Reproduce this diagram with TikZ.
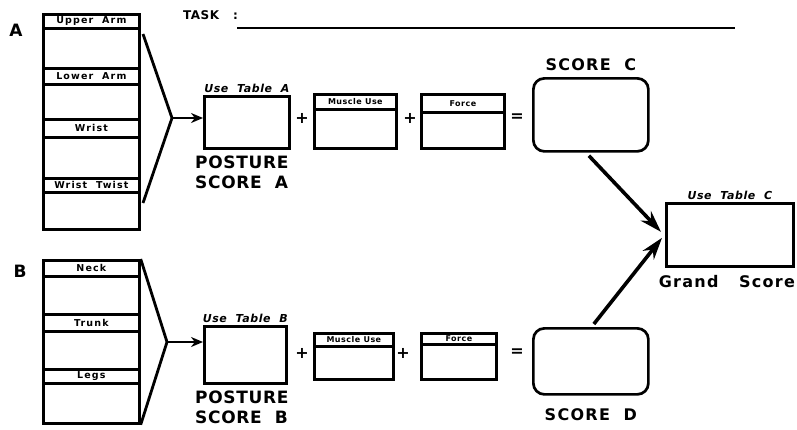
\documentclass[tikz,border=0pt]{standalone}
\usepackage{fontspec}
\setmainfont{DejaVu Sans}
\usetikzlibrary{arrows.meta}

\tikzset{
  box/.style={draw, line width=2.7pt, inner sep=0pt, anchor=north west},
  colhead/.style={font=\bfseries\fontsize{9.5}{9.5}\selectfont\addfontfeature{LetterSpace=12}, inner sep=0pt},
  headlbl/.style={font=\bfseries\fontsize{8}{8}\selectfont\addfontfeature{LetterSpace=6}, inner sep=0pt},
  tablelbl/.style={font=\bfseries\itshape\fontsize{11}{11}\selectfont\addfontfeature{LetterSpace=5}, inner sep=2pt},
  bigtxt/.style={font=\bfseries\fontsize{17}{20}\selectfont\addfontfeature{LetterSpace=4}, inner sep=0pt},
  scoretxt/.style={font=\bfseries\fontsize{16}{17}\selectfont\addfontfeature{LetterSpace=8}, inner sep=0pt},
  opsign/.style={font=\bfseries\fontsize{16}{16}\selectfont, inner sep=0pt},
  fan/.style={line width=2.8pt},
  scorearrow/.style={line width=3.6pt, -{Stealth[length=22pt,width=14pt]}}
}

\begin{document}
\begin{tikzpicture}[x=1pt, y=-1pt]
  \useasboundingbox (0,0) rectangle (797,429);

  % task line
  \node[font=\bfseries\fontsize{12}{12}\selectfont\addfontfeature{LetterSpace=4}, anchor=west, inner sep=0pt] (task) at (183,15) {TASK\hspace{14pt}:};
  \coordinate (taskstart) at (237,28);
  \coordinate (taskend) at (735,28);
  \draw[line width=1.8pt] (taskstart) -- (taskend);

  % group A body parts
  \node[bigtxt] (labA) at (16,30) {A};
  \node[box, minimum width=96, minimum height=14] (uaH) at (42,13) {};
  \node[box, minimum width=96, minimum height=40] (uaC) at (42,27) {};
  \node[box, minimum width=96, minimum height=16] (laH) at (42,67) {};
  \node[box, minimum width=96, minimum height=35] (laC) at (42,83) {};
  \node[box, minimum width=96, minimum height=18] (wrH) at (42,118) {};
  \node[box, minimum width=96, minimum height=41] (wrC) at (42,136) {};
  \node[box, minimum width=96, minimum height=14] (wtH) at (42,177) {};
  \node[box, minimum width=96, minimum height=37] (wtC) at (42,191) {};
  \node[colhead] at (uaH) {Upper\ \ Arm};
  \node[colhead] at (laH) {Lower\ \ Arm};
  \node[colhead] at (wrH) {Wrist};
  \node[colhead] at (wtH) {Wrist\ \ Twist};

  % group B body parts
  \node[bigtxt] (labB) at (20,271) {B};
  \node[box, minimum width=96, minimum height=16] (nkH) at (42,259) {};
  \node[box, minimum width=96, minimum height=38] (nkC) at (42,275) {};
  \node[box, minimum width=96, minimum height=17] (trH) at (42,313) {};
  \node[box, minimum width=96, minimum height=38] (trC) at (42,330) {};
  \node[box, minimum width=96, minimum height=14] (lgH) at (42,368) {};
  \node[box, minimum width=96, minimum height=40] (lgC) at (42,382) {};
  \node[colhead] at (nkH) {Neck};
  \node[colhead] at (trH) {Trunk};
  \node[colhead] at (lgH) {Legs};

  % row A
  \node[box, minimum width=85, minimum height=52] (postA) at (203,95) {};
  \node[box, minimum width=82, minimum height=15] (muscA) at (313,93) {};
  \node[box, minimum width=82, minimum height=39] (muscAc) at (313,108) {};
  \node[box, minimum width=83, minimum height=18] (forcA) at (420,93) {};
  \node[box, minimum width=83, minimum height=36] (forcAc) at (420,111) {};
  \node[box, rounded corners=11pt, minimum width=115, minimum height=73] (scoreC) at (532,77) {};
  \node[headlbl] at (muscA) {Muscle Use};
  \node[headlbl] at (forcA) {Force};
  \node[tablelbl, anchor=south] at (postA.north) {Use\ \ Table\ \ A};
  \node[bigtxt, anchor=north west, align=left] at (195,156) {POSTURE\\SCORE\ \ A};
  \node[opsign] at (302,118) {+};
  \node[opsign] at (410,118) {+};
  \node[opsign] at (517,118) {=};
  \node[scoretxt, anchor=south] at ([yshift=6pt]scoreC.north) {SCORE\ \ C};

  % row B
  \node[box, minimum width=82, minimum height=57] (postB) at (203,325) {};
  \node[box, minimum width=79, minimum height=13] (muscB) at (313,332) {};
  \node[box, minimum width=79, minimum height=33] (muscBc) at (313,345) {};
  \node[box, minimum width=75, minimum height=11] (forcB) at (420,332) {};
  \node[box, minimum width=75, minimum height=35] (forcBc) at (420,343) {};
  \node[box, rounded corners=11pt, minimum width=115, minimum height=66] (scoreD) at (532,327) {};
  \node[headlbl] at (muscB) {Muscle Use};
  \node[headlbl] at (forcB) {Force};
  \node[tablelbl, anchor=south] at (postB.north) {Use\ \ Table\ \ B};
  \node[bigtxt, anchor=north west, align=left] at (195,391) {POSTURE\\SCORE\ \ B};
  \node[opsign] at (302,353) {+};
  \node[opsign] at (403,353) {+};
  \node[opsign] at (517,353) {=};
  \node[scoretxt, anchor=north] at ([yshift=-13pt]scoreD.south) {SCORE\ \ D};

  % grand score
  \node[box, minimum width=127, minimum height=63] (grand) at (665,202) {};
  \node[tablelbl, anchor=south] at (grand.north) {Use\ \ Table\ \ C};
  \node[scoretxt, anchor=north] at ([xshift=-3pt, yshift=-7pt]grand.south) {Grand\ \ \ Score};

  % fans into the posture boxes
  \coordinate (fanAt) at (143,34);
  \coordinate (fanAb) at (143,203);
  \coordinate (jA) at (172,118);
  \draw[fan, line join=round] (fanAt) -- (jA) -- (fanAb);
  \draw[fan, -{Stealth[length=12pt,width=10pt]}] (jA) -- (jA -| postA.west);
  \coordinate (jB) at (167,342);
  \draw[fan, line join=round] (nkH.north east) -- (jB) -- (lgC.south east);
  \draw[fan, -{Stealth[length=12pt,width=10pt]}] (jB) -- (jB -| postB.west);

  % scores to grand score
  \draw[scorearrow] ([xshift=-2pt, yshift=-3pt]scoreC.south) -- ([xshift=-4pt, yshift=3pt]grand.west);
  \draw[scorearrow] ([xshift=3pt, yshift=3pt]scoreD.north) -- ([xshift=-3pt, yshift=-3pt]grand.west);
\end{tikzpicture}
\end{document}
